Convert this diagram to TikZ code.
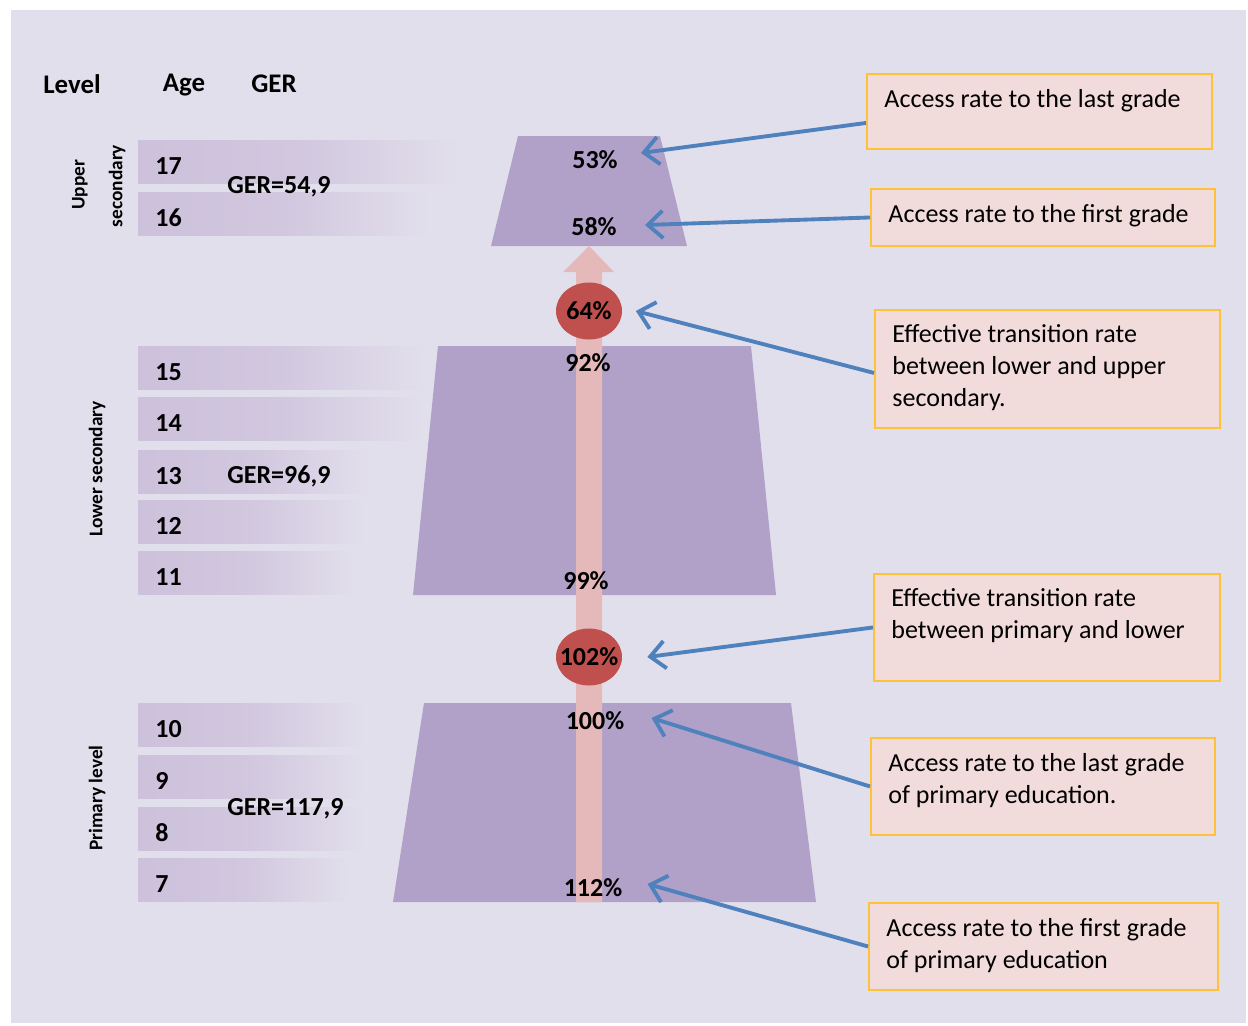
\documentclass[tikz,border=0pt]{standalone}
\usepackage{fontspec}
\setmainfont{Carlito}
\usetikzlibrary{shapes.geometric,arrows.meta}

\definecolor{backfill}{HTML}{E2DFEC}
\definecolor{barfill}{HTML}{CDC1DB}
\definecolor{levelfill}{HTML}{B1A1C8}
\definecolor{flowfill}{HTML}{E5B8B9}
\definecolor{ratefill}{HTML}{C0504D}
\definecolor{notefill}{HTML}{F2DCDB}
\definecolor{noteline}{HTML}{FDC238}
\definecolor{arrowblue}{HTML}{4F81BD}

\tikzset{
  pct/.style={font=\fontsize{14.8}{17}\selectfont\bfseries, inner sep=0pt},
  age/.style={font=\fontsize{14.8}{17}\selectfont\bfseries, anchor=west, inner sep=0pt},
  ger/.style={font=\fontsize{14.8}{17}\selectfont\bfseries, anchor=west, inner sep=0pt},
  head/.style={font=\fontsize{15.3}{18}\selectfont\bfseries, inner sep=0pt},
  lvl/.style={font=\fontsize{11}{13}\selectfont\bfseries, rotate=90, inner sep=0pt},
  rate/.style={ellipse, fill=ratefill, minimum width=1.32cm, minimum height=1.14cm, inner xsep=-0.12cm, inner ysep=0pt, font=\fontsize{14.8}{17}\selectfont\bfseries},
  note/.style={draw=noteline, fill=notefill, line width=1.1pt, anchor=north west, inner xsep=0.35cm, inner ysep=0.3cm, font=\fontsize{14.8}{18.2}\selectfont},
  callout/.style={draw=arrowblue, line width=2.2pt, -{Straight Barb[length=0.3cm, width=0.55cm]}}
}

\begin{document}
\begin{tikzpicture}[x=0.02cm, y=-0.02cm]
    % testo del riquadro: altezza, larghezza, righe
    \def\notetext#1#2#3{\parbox[t][#1][t]{#2}{\raggedright #3}}

    % Sfondo
    \fill[white] (0,0) rectangle (1248,1025);
    \fill[backfill] (11,10) rectangle (1246,1023);

    % Intestazioni
    \node[head] (level) at (72,84) {Level};
    \node[head] (agehead) at (184,85) {Age};
    \node[head] (gerhead) at (274,84) {GER};

    % Barre delle eta
    \foreach \age/\yt/\xr in {17/140/460, 16/192/430, 15/346/425, 14/397/425, 13/450/370, 12/500/365, 11/551/355, 10/703/365, 9/755/365, 8/807/365, 7/858/350} {
        \shade[left color=barfill, right color=backfill, middle color=barfill!80!backfill] (138,\yt) rectangle (\xr,\yt+43);
        \node[age] (a\age) at (155,\yt+26) {\age}; % eta
    }

    % Livelli
    \node[lvl] (upperA) at (80,185) {Upper};
    \node[lvl] (upperB) at (117,186) {secondary};
    \node[lvl] (lower) at (97,469) {Lower secondary};
    \node[lvl] (primary) at (97,798) {Primary level};

    \node[ger] (gerU) at (227,187) {GER=54,9};
    \node[ger] (gerL) at (227,476) {GER=96,9};
    \node[ger] (gerP) at (227,809) {GER=117,9};

    % Trapezi dei cicli
    \fill[levelfill] (518,136) -- (660,136) -- (687,246) -- (491,246) -- cycle;
    \fill[levelfill] (438,346) -- (751,346) -- (776,595) -- (413,595) -- cycle;
    \fill[levelfill] (424,703) -- (791,703) -- (816,902) -- (393,902) -- cycle;

    % Freccia verticale
    \fill[flowfill] (576,902) -- (576,272) -- (563,272) -- (589,246) -- (614,272) -- (602,272) -- (602,902) -- cycle;

    % Tassi
    \node[pct] (p53) at (595,160) {53\%};
    \node[pct] (p58) at (594,227) {58\%};
    \node[rate] (e64) at (589,311) {64\%};
    \node[pct] (p92) at (588,363) {92\%};
    \node[pct] (p99) at (586,581) {99\%};
    \node[rate] (e102) at (589,657) {102\%};
    \node[pct] (p100) at (595,721) {100\%};
    \node[pct] (p112) at (593,888) {112\%};

    % Riquadri
    \node[note] (lastU) at (866,73) {\notetext{0.9cm}{6.2cm}{Access rate to the last grade}};
    \node[note] (firstU) at (870,188) {\notetext{0.54cm}{6.18cm}{Access rate to the first grade}};
    \node[note] (transLU) at (874,309) {\notetext{1.76cm}{6.2cm}{Effective transition rate\\ between lower and upper\\ secondary.}};
    \node[note] (transPL) at (873,573) {\notetext{1.54cm}{6.22cm}{Effective transition rate\\ between primary and lower}};
    \node[note] (lastP) at (870,737) {\notetext{1.34cm}{6.18cm}{Access rate to the last grade\\ of primary education.}};
    \node[note] (firstP) at (868,902) {\notetext{1.14cm}{6.28cm}{Access rate to the first grade\\ of primary education}};

    % Frecce
    \draw[callout] ([yshift=-0.23cm]lastU.west) -- ([xshift=0.46cm,yshift=0.14cm]p53.east);
    \draw[callout] (firstU.west) -- ([xshift=0.56cm,yshift=0.04cm]p58.east);
    \draw[callout] ([yshift=-0.08cm]transLU.west) -- ([xshift=0.27cm]e64.east);
    \draw[callout] (transPL.west) -- ([xshift=0.5cm]e102.east);
    \draw[callout] (lastP.west) -- ([xshift=0.54cm,yshift=0.06cm]p100.east);
    \draw[callout] (firstP.west) -- ([xshift=0.5cm,yshift=0.08cm]p112.east);
\end{tikzpicture}
\end{document}
